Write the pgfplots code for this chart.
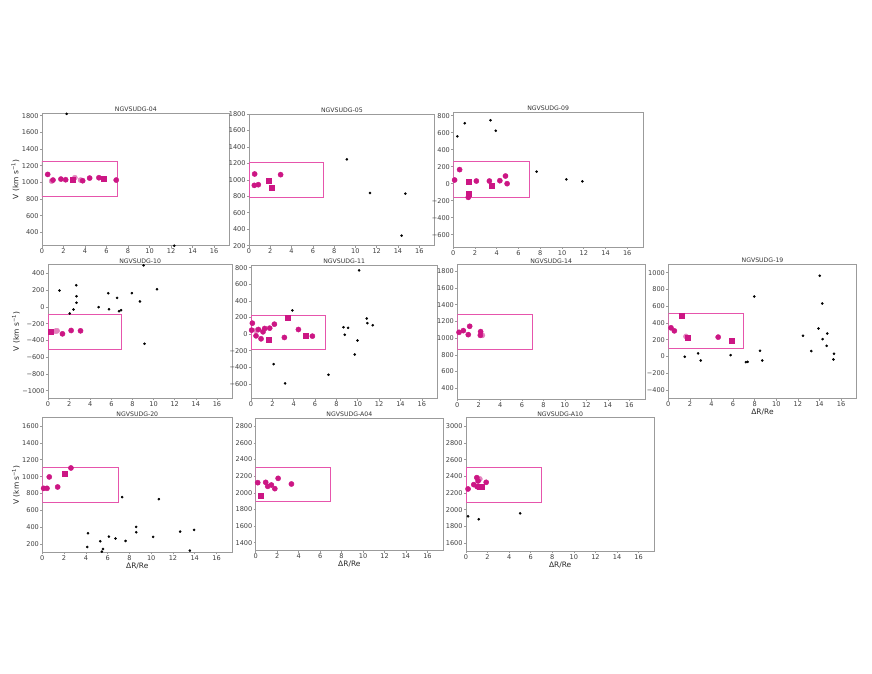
\documentclass[border=0pt]{standalone}
\usepackage{fontspec}
\setmainfont{DejaVu Sans}
\usepackage{pgfplots}
\pgfplotsset{compat=1.18}
\definecolor{dgpink}{RGB}{204,22,132}
\definecolor{dglight}{RGB}{228,130,190}
\definecolor{boxpink}{RGB}{230,85,172}
\definecolor{frame}{RGB}{155,155,155}
\pgfplotsset{
  panel/.style={
    scale only axis, anchor=south west,
    xmin=0, xmax=17.45, xtick={0,2,...,16}, ytick distance=200,
    axis line style={frame, line width=0.9bp},
    tick style={frame, line width=0.6bp},
    tick align=outside, major tick length=2bp,
    xtick pos=bottom, ytick pos=left,
    /pgf/number format/assume math mode=true,
    /pgf/number format/1000 sep={},
    yticklabel={\ifdim\tick pt<0pt −\pgfmathparse{abs(\tick)}\pgfmathprintnumber{\pgfmathresult}\else\pgfmathprintnumber{\tick}\fi},
    ticklabel style={font=\fontsize{6.6}{7.5}\selectfont, text=black!75, inner sep=1.2bp},
    every axis title shift=0pt,
    title style={font=\fontsize{6.2}{7}\selectfont, text=black!80, inner sep=1.2bp},
    label style={font=\fontsize{7.5}{9}\selectfont, text=black!85},
    ylabel style={inner sep=1bp},
    xlabel style={inner sep=1bp},
  },
  dg/.style={dgpink, only marks, mark=*, mark size=2.6bp, mark options={draw=none, fill=dgpink}},
  dl/.style={dglight, only marks, mark=*, mark size=2.6bp, mark options={draw=none, fill=dglight}},
  sq/.style={dgpink, only marks, mark=square*, mark size=2.5bp, mark options={draw=none, fill=dgpink}},
  bk/.style={black, only marks, mark=*, mark size=1.1bp, mark options={draw=none, fill=black}},
  bx/.style={boxpink, line width=1bp},
}
\newcommand{\vlab}{V (km s\textsuperscript{−1})}
\begin{document}
\begin{tikzpicture}
\path[use as bounding box] (0,0) rectangle (872bp,674bp);

% ---- row 1
\begin{axis}[panel, at={(42bp,428.3bp)}, width=187.7bp, height=132.4bp,
  ymin=240, ymax=1830, title={NGVSUDG-04}, ylabel={\vlab}]
\addplot[bx] coordinates {(0,830) (7,830) (7,1250) (0,1250) (0,830)};
\addplot[dl] coordinates {(0.9,1016) (3.05,1056) (3.59,1028)};
\addplot[dg] coordinates {(0.53,1096) (1.02,1028) (1.76,1040) (2.2,1032) (3.78,1020) (4.43,1052) (5.29,1056) (6.9,1028)};
\addplot[sq] coordinates {(2.85,1032) (5.76,1040)};
\addplot[bk] coordinates {(2.29,1824) (12.3,240)};
\end{axis}

\begin{axis}[panel, at={(249bp,428.3bp)}, width=185.7bp, height=131.7bp,
  ymin=200, ymax=1800, title={NGVSUDG-05}]
\addplot[bx] coordinates {(0,790) (7,790) (7,1210) (0,1210) (0,790)};
\addplot[dg] coordinates {(0.53,1071) (0.5,933) (0.875,941) (2.97,1063)};
\addplot[sq] coordinates {(1.84,994) (2.16,905)};
\addplot[bk] coordinates {(9.19,1249) (11.375,840) (14.69,832) (14.34,322)};
\end{axis}

\begin{axis}[panel, at={(453.3bp,427bp)}, width=189.7bp, height=135bp,
  ymin=-745, ymax=843, title={NGVSUDG-09}]
\addplot[bx] coordinates {(0,-160) (7,-160) (7,260) (0,260) (0,-160)};
\addplot[dg] coordinates {(0.12,43) (0.58,165) (2.12,31) (3.32,31) (4.28,35) (4.8,90) (4.95,0) (1.38,-161)};
\addplot[sq] coordinates {(1.45,27) (1.42,-122) (3.54,-27)};
\addplot[bk] coordinates {(0.37,557) (1.05,710) (3.42,745) (3.91,623) (7.66,141) (10.4,51) (11.88,27)};
\end{axis}

% ---- row 2
\begin{axis}[panel, at={(48bp,275.7bp)}, width=184.3bp, height=133.6bp,
  ymin=-1091, ymax=503, title={NGVSUDG-10}, ylabel={\vlab}]
\addplot[bx] coordinates {(0,-510) (7,-510) (7,-90) (0,-90) (0,-510)};
\addplot[dl] coordinates {(0.7,-290) (0.86,-286)};
\addplot[dg] coordinates {(1.37,-322) (2.19,-282) (3.08,-286)};
\addplot[sq] coordinates {(0.25,-298)};
\addplot[bk] coordinates {(1.08,195) (2.06,-80) (2.41,-32) (2.67,258) (2.7,127) (2.7,48) (4.79,-4) (5.71,163) (5.78,-28) (6.54,107) (6.73,-52) (6.92,-40) (7.94,163) (8.7,64) (9.05,495) (9.14,-441) (10.32,211)};
\end{axis}

\begin{axis}[panel, at={(251bp,275.3bp)}, width=186.3bp, height=133.4bp,
  ymin=-777, ymax=829, title={NGVSUDG-11}]
\addplot[bx] coordinates {(0,-190) (7,-190) (7,230) (0,230) (0,-190)};
\addplot[dl] coordinates {(0.5,44)};
\addplot[dg] coordinates {(0.125,132) (0.06,48) (0.47,-20) (0.69,56) (0.94,-56) (1.125,28) (1.28,68) (1.75,72) (2.19,120) (3.125,-40) (4.44,56) (5.75,-24)};
\addplot[sq] coordinates {(1.625,-64) (3.41,193) (5.16,-20)};
\addplot[bk] coordinates {(3.875,285) (2.125,-361) (3.19,-593) (7.25,-489) (8.66,84) (9.09,76) (8.78,-8) (9.72,-245) (9.97,-76) (10.125,768) (10.84,189) (10.9,132) (11.4,108)};
\end{axis}

\begin{axis}[panel, at={(457.3bp,275bp)}, width=187.7bp, height=134.3bp,
  ymin=272, ymax=1879, title={NGVSUDG-14}]
\addplot[bx] coordinates {(0,860) (7,860) (7,1280) (0,1280) (0,860)};
\addplot[dl] coordinates {(2.33,1034)};
\addplot[dg] coordinates {(0.16,1070) (0.56,1090) (1.02,1042) (1.15,1142) (2.17,1078) (2.14,1034)};
\end{axis}

\begin{axis}[panel, at={(668.3bp,275.3bp)}, width=188.4bp, height=134.7bp,
  ymin=-504, ymax=1104, title={NGVSUDG-19}, xlabel={ΔR/Re}]
\addplot[bx] coordinates {(0,90) (7,90) (7,510) (0,510) (0,90)};
\addplot[dl] coordinates {(1.64,239)};
\addplot[dg] coordinates {(0.25,342) (0.56,306) (4.62,231)};
\addplot[sq] coordinates {(1.27,485) (1.83,227) (5.86,191)};
\addplot[bk] coordinates {(1.52,-4) (2.76,36) (3.0,-48) (5.77,16) (7.19,-68) (7.35,-64) (7.97,716) (8.5,68) (8.71,-48) (12.47,247) (13.24,64) (13.92,334) (14.02,964) (14.26,632) (14.29,207) (14.73,274) (14.67,127) (15.35,32) (15.29,-36)};
\end{axis}

% ---- row 3
\begin{axis}[panel, at={(42.3bp,121.7bp)}, width=190bp, height=134.6bp,
  ymin=105, ymax=1698, title={NGVSUDG-20}, ylabel={\vlab}, xlabel={ΔR/Re}]
\addplot[bx] coordinates {(0,690) (7,690) (7,1110) (0,1110) (0,690)};
\addplot[dg] coordinates {(0.12,862) (0.43,862) (0.64,997) (1.41,878) (2.63,1103)};
\addplot[sq] coordinates {(2.08,1036)};
\addplot[bk] coordinates {(4.13,168) (4.19,330) (5.32,235) (5.47,112) (5.57,144) (6.12,291) (6.73,268) (7.34,758) (7.65,239) (8.62,405) (8.62,342) (10.18,287) (10.7,734) (12.66,350) (13.94,370) (13.55,125)};
\end{axis}

\begin{axis}[panel, at={(255.7bp,123.3bp)}, width=187.3bp, height=132.4bp,
  ymin=1304, ymax=2896, title={NGVSUDG-A04}, xlabel={ΔR/Re}]
\addplot[bx] coordinates {(0,1890) (7,1890) (7,2310) (0,2310) (0,1890)};
\addplot[dg] coordinates {(0.19,2122) (0.93,2126) (1.12,2078) (1.46,2094) (1.78,2050) (2.09,2174) (3.33,2106)};
\addplot[sq] coordinates {(0.5,1970)};
\end{axis}

\begin{axis}[panel, at={(466bp,123bp)}, width=188.3bp, height=133.3bp,
  ymin=1504, ymax=3103, title={NGVSUDG-A10}, xlabel={ΔR/Re}]
\addplot[bx] coordinates {(0,2090) (7,2090) (7,2510) (0,2510) (0,2090)};
\addplot[dl] coordinates {(1.15,2360) (1.28,2368)};
\addplot[dg] coordinates {(0.19,2248) (0.72,2300) (1.0,2384) (1.12,2344) (1.03,2276) (1.87,2328)};
\addplot[sq] coordinates {(1.28,2280) (1.43,2280)};
\addplot[bk] coordinates {(0.19,1920) (1.18,1884) (5.02,1956)};
\end{axis}
\end{tikzpicture}
\end{document}
